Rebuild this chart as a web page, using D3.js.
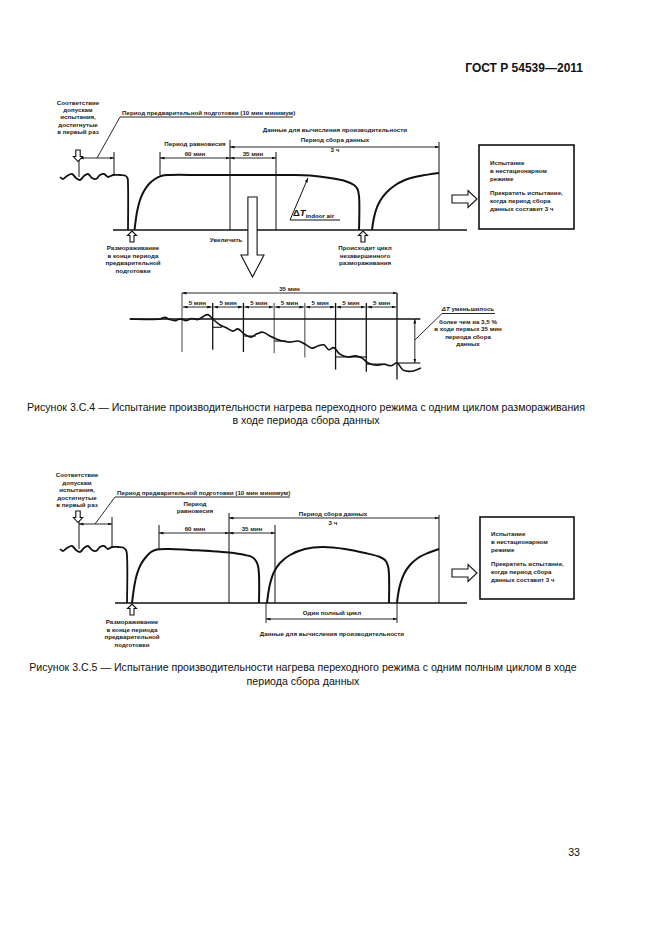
<!DOCTYPE html>
<html>
<head>
<meta charset="utf-8">
<script src="https://cdn.jsdelivr.net/npm/d3@7"></script>
<style>
  body { margin: 0; background: #fff; }
  svg { display: block; font-family: 'Liberation Sans', Arial, sans-serif; }
  .small { font-size: 6.2px; font-weight: bold; fill: #1a1a1a; }
  .caption { font-size: 10.6px; fill: #111; }
</style>
</head>
<body>
<svg id="page"></svg>
<script>
// ---- Рисунок 3.С.4 : schematic time units (t) vs relative indoor temperature (T)
const f1Preheat = [[0,53],[3,51],[7,54],[12,56],[16,52],[20,50],[24,54],[28,56],[32,52],[36,51],[40,55],[44,56],[48,53],[53,55],[60,55],[65,54.5],[67.5,52],[68,46],[68,0]];
const f1Recovery = [[74.5,0],[75.5,8],[77,18],[80,30],[84,39],[89,46],[95,51],[101,54],[110,55],[140,55],[170,55],[200,55],[230,55],[250,54.5],[270,52],[285,49],[294,45],[297.5,41],[299,34],[299,0]];
const f1Restart = [[312,0],[313.5,10],[316,20],[320,29],[326,37],[334,44],[345,50],[360,54],[379,57]];
const f1Defrost = [72, 303];

// ---- Рисунок 3.С.5
const f2Preheat = [[0,54],[3,52],[7,55],[12,57],[16,53],[20,51],[24,55],[28,57],[32,53],[36,52],[40,56],[44,57],[48,54],[52,56],[58,56],[63,55.5],[66,53],[67,47],[67,0]];
const f2Recovery = [[72,0],[73,8],[74.5,18],[77,29],[81,39],[86,46],[91,51],[97,53.5],[110,54],[130,53],[150,52],[169,50.5],[185,48],[192,46],[196,42],[198,37],[199,28],[199,0]];
const f2Cycle = [[207,0],[208,8],[210,19],[214,31],[220,40],[230,48],[245,54],[263,56],[285,54],[305,50],[320,46],[325,43],[328,37],[329,28],[329,0]];
const f2Restart = [[337,0],[338,8],[340,18],[344,29],[350,38],[358,45],[368,50],[379,54]];
const f2Defrost = [72];

// ---- Увеличенный фрагмент: minutes of data collection vs drop of ΔT, %
const detailMinutes = [-8.5,-3.6,-2.8,-2.0,-1.1,-0.3,0.7,1.6,2.6,3.4,4.2,5.0,6.2,7.2,8.3,9.1,10.1,11.2,12.2,13.2,14.3,15.3,16.3,17.6,18.9,20.2,21.2,22.1,23.1,23.9,24.7,25.7,27.0,28.3,29.3,30.3,31.6,32.9,34.0,35.0,36.0,37.4,38.9];
const detailDrop = [0,0,-0.15,0.05,0.15,0,0.15,-0.05,0.05,-0.2,-0.4,0,0.55,0.8,1.1,0.9,1.35,1.65,1.35,1.2,1.55,1.8,2.0,2.1,2.0,2.35,2.65,2.45,2.35,2.8,2.6,3.2,3.45,3.35,3.55,4.0,4.2,4.1,4.25,4.0,4.65,4.75,4.45];
const detailIntervals = [0,5,10,15,20,25,30,35];
const detailSteps = [[5,6.5,0.75],[10,12,1.55],[15,17,2.0],[25,30,3.45],[30,32.5,4.1]];

const boxLines1 = ['Испытание','в нестационарном','режиме'];
const boxLines2 = ['Прекратить испытание,','когда период сбора','данных составит 3 ч'];
const okLines = ['Соответствие','допускам','испытания,','достигнутые','в первый раз'];
const defrostLines = ['Размораживание','в конце периода','предварительной','подготовки'];

const INK = '#111';
let svg = d3.select('#page').attr('width', 661).attr('height', 936);

svg.append('defs').append('marker')
  .attr('id', 'arr').attr('viewBox', '0 0 6 4').attr('refX', 6).attr('refY', 2)
  .attr('markerWidth', 4.5).attr('markerHeight', 3).attr('markerUnits', 'userSpaceOnUse')
  .attr('orient', 'auto-start-reverse')
  .append('path').attr('d', 'M0,0L6,2L0,4Z').attr('fill', INK);

function line(g, x1, y1, x2, y2, w) {
  return g.append('line').attr('x1', x1).attr('y1', y1).attr('x2', x2).attr('y2', y2)
    .attr('stroke', INK).attr('stroke-width', w || 1);
}

function dim(g, x1, x2, y) {
  line(g, x1, y, x2, y, 0.9).attr('marker-start', 'url(#arr)').attr('marker-end', 'url(#arr)');
}

function text(g, x, y, lines, anchor, dy) {
  let t = g.append('text').attr('class', 'small').attr('text-anchor', anchor || 'middle');
  [].concat(lines).forEach((s, i) => {
    t.append('tspan').attr('x', x).attr('y', y + i * (dy || 7.5)).text(s);
  });
  return t;
}

// hollow block arrow, tail at (x,y), pointing along angle (deg)
function blockArrow(g, x, y, angle, L, s, h, hl) {
  let pts = [[0,-s],[L-hl,-s],[L-hl,-h],[L,0],[L-hl,h],[L-hl,s],[0,s]];
  g.append('polygon').attr('points', pts.map(p => p.join(',')).join(' '))
    .attr('transform', `translate(${x},${y}) rotate(${angle})`)
    .attr('fill', '#fff').attr('stroke', INK).attr('stroke-width', 1.1);
}

function curve(g, data, xs, ys, w) {
  let gen = d3.line().x(d => xs(d[0])).y(d => ys(d[1])).curve(d3.curveCatmullRom.alpha(0.5));
  g.append('path').attr('d', gen(data)).attr('fill', 'none')
    .attr('stroke', INK).attr('stroke-width', w || 2).attr('stroke-linejoin', 'round');
}

function resultBox(g, x0, y0, x1, y1, ty) {
  g.append('rect').attr('x', x0).attr('y', y0).attr('width', x1 - x0).attr('height', y1 - y0)
    .attr('fill', 'none').attr('stroke', INK).attr('stroke-width', 1.6);
  text(g, x0 + 11, ty, boxLines1, 'start', 7.8);
  text(g, x0 + 11, ty + 30, boxLines2, 'start', 7.8);
}

// ---------------- header / captions
svg.append('text').attr('x', 583).attr('y', 72).attr('text-anchor', 'end')
  .style('font-size', '12px').style('font-weight', 'bold').attr('fill', INK).text('ГОСТ Р 54539—2011');
svg.append('text').attr('class', 'caption').attr('x', 306).attr('y', 411).attr('text-anchor', 'middle')
  .text('Рисунок 3.С.4 — Испытание производительности нагрева переходного режима с одним циклом размораживания');
svg.append('text').attr('class', 'caption').attr('x', 306).attr('y', 424).attr('text-anchor', 'middle')
  .text('в ходе периода сбора данных');
svg.append('text').attr('class', 'caption').attr('x', 303).attr('y', 671).attr('text-anchor', 'middle')
  .text('Рисунок 3.С.5 — Испытание производительности нагрева переходного режима с одним полным циклом в ходе');
svg.append('text').attr('class', 'caption').attr('x', 303).attr('y', 685).attr('text-anchor', 'middle')
  .text('периода сбора данных');
svg.append('text').attr('class', 'caption').attr('x', 580).attr('y', 856).attr('text-anchor', 'end').text('33');

// ---------------- Figure 3.C.4
function makeFigure1() {
  let g = svg.append('g');
  let x = d3.scaleLinear().domain([0, 380]).range([60, 440]);
  let y = d3.scaleLinear().domain([0, 55]).range([230, 175]);

  line(g, x(53), y(0), x(407), y(0), 1.6);
  // vertical reference lines
  line(g, x(19), y(78), x(19), y(53));
  line(g, x(54), y(78), x(54), y(55));
  line(g, x(100), y(78), x(100), y(55));
  line(g, x(170), y(90), x(170), y(0));
  line(g, x(216), y(78), x(216), y(0));
  line(g, x(379), y(88), x(379), y(0));

  curve(g, f1Preheat, x, y, 1.8);
  curve(g, f1Recovery, x, y, 2);
  curve(g, f1Restart, x, y, 2);

  dim(g, x(19), x(54), y(72));
  dim(g, x(100), x(170), y(72));
  dim(g, x(170), x(216), y(72));
  dim(g, x(170), x(379), y(83));

  f1Defrost.forEach(t => blockArrow(g, x(t), y(0) + 12, -90, 11, 2, 4.5, 4.5));
  blockArrow(g, 78, 150, 90, 11.5, 2.2, 4.6, 5);
  blockArrow(g, 252.5, 197, 90, 80, 4.6, 11.5, 22);
  blockArrow(g, 452, 199, 0, 25, 4, 8.5, 9);

  // ΔT indoor air
  line(g, x(230), y(10), x(248), y(52), 1).attr('marker-end', 'url(#arr)');
  line(g, x(230), y(10), x(280), y(10), 1);
  let dt = g.append('text').attr('x', 293).attr('y', 216).attr('fill', INK)
    .style('font-size', '9.5px').style('font-weight', 'bold');
  dt.append('tspan').text('Δ');
  dt.append('tspan').style('font-style', 'italic').text('T');
  dt.append('tspan').attr('dy', 2).style('font-size', '6.2px').text('indoor air');

  text(g, 78, 105, okLines, 'middle', 7.2);
  g.append('path').attr('d', 'M97,158L120,117L293,117').attr('fill', 'none').attr('stroke', INK).attr('stroke-width', 0.9);
  text(g, 122, 115, 'Период предварительной подготовки (10 мин минимум)', 'start');
  text(g, 335, 132, 'Данные для вычисления производительности');
  text(g, 195, 146, 'Период равновесия');
  text(g, 195, 155.5, '60 мин');
  text(g, 253, 155.5, '35 мин');
  text(g, 335, 142, 'Период сбора данных');
  text(g, 335, 152, '3 ч');
  text(g, 226, 242, 'Увеличить');
  text(g, 133, 250, defrostLines);
  text(g, 365, 250, ['Происходит цикл', 'незавершенного', 'размораживания']);

  resultBox(g, 479, 145, 574, 229, 165);
}

// ---------------- zoomed fragment
function makeDetail() {
  let g = svg.append('g');
  let x = d3.scaleLinear().domain([0, 35]).range([182, 397]);
  let y = d3.scaleLinear().domain([0, 4]).range([319, 363]);
  let depth = [3.0, 2.8, 3.0, 3.1, 3.5, 4.6, 4.8, 5.5];
  let weight = [0.8, 1.3, 1.3, 0.8, 0.8, 1.3, 1.3, 1.3];

  line(g, x(-8.5), y(0), x(38.8), y(0), 1.3);
  detailIntervals.forEach((t, i) => {
    let top = (t === 0 || t === 35) ? 293 : 303;
    line(g, x(t), top, x(t), y(depth[i]), weight[i]);
  });
  dim(g, x(0), x(35), 293);
  text(g, x(17.5), 290.5, '35 мин');
  for (let i = 0; i < detailIntervals.length - 1; i++) {
    dim(g, x(detailIntervals[i]) + 1, x(detailIntervals[i + 1]) - 1, 307);
    text(g, x(detailIntervals[i] + 2.5), 304.5, '5 мин');
  }
  detailSteps.forEach(s => line(g, x(s[0]), y(s[2]), x(s[1]), y(s[2]), 1.1));

  let pts = detailMinutes.map((m, i) => [m, detailDrop[i]]);
  curve(g, pts, x, y, 1.6);

  // ΔT bracket
  line(g, x(35), y(4), x(38.8), y(4), 1.1);
  line(g, x(37.9), y(0), x(37.9), y(4), 0.9).attr('marker-start', 'url(#arr)').attr('marker-end', 'url(#arr)');
  g.append('path').attr('d', `M${x(37.9)},340L442,313.5L495,313.5`).attr('fill', 'none')
    .attr('stroke', INK).attr('stroke-width', 0.9);
  text(g, 468, 323.5, ['более чем на 3,5 %', 'в ходе первых 35 мин', 'периода сбора', 'данных'], 'middle', 7.6);
  let head = g.append('text').attr('class', 'small').attr('x', 468).attr('y', 311).attr('text-anchor', 'middle');
  head.append('tspan').style('font-style', 'italic').text('ΔT');
  head.append('tspan').text(' уменьшилось');
}

// ---------------- Figure 3.C.5
function makeFigure2() {
  let g = svg.append('g');
  let x = d3.scaleLinear().domain([0, 380]).range([60, 440]);
  let y = d3.scaleLinear().domain([0, 54]).range([603, 549]);

  line(g, x(55), y(0), x(407), y(0), 1.6);
  line(g, x(19), y(86), x(19), y(54));
  line(g, x(52), y(86), x(52), y(56));
  line(g, x(99), y(78), x(99), y(54));
  line(g, x(169), y(90), x(169), y(0));
  line(g, x(215), y(78), x(215), y(0));
  line(g, x(379), y(88), x(379), y(0));
  line(g, x(206), y(0), x(206), y(-20), 0.9);
  line(g, x(337), y(0), x(337), y(-20), 0.9);

  curve(g, f2Preheat, x, y, 1.8);
  curve(g, f2Recovery, x, y, 2);
  curve(g, f2Cycle, x, y, 2);
  curve(g, f2Restart, x, y, 2);

  dim(g, x(19), x(52), y(79));
  dim(g, x(99), x(169), y(70));
  dim(g, x(169), x(215), y(70));
  dim(g, x(169), x(379), y(85));
  dim(g, x(206), x(337), y(-16));

  f2Defrost.forEach(t => blockArrow(g, x(t), y(0) + 12, -90, 11, 2, 4.5, 4.5));
  blockArrow(g, 78, 511, 90, 11.5, 2.2, 4.6, 5);
  blockArrow(g, 452, 573, 0, 25, 4, 8.5, 9);

  text(g, 77, 477, okLines, 'middle', 7.5);
  g.append('path').attr('d', 'M95,524L115,497L290,497').attr('fill', 'none').attr('stroke', INK).attr('stroke-width', 0.9);
  text(g, 117, 495, 'Период предварительной подготовки (10 мин минимум)', 'start');
  text(g, 195, 506, ['Период', 'равновесия'], 'middle', 7);
  text(g, 195, 531, '60 мин');
  text(g, 252, 531, '35 мин');
  text(g, 333, 516, 'Период сбора данных');
  text(g, 333, 525, '3 ч');
  text(g, 332, 615, 'Один полный цикл');
  text(g, 332, 636, 'Данные для вычисления производительности');
  text(g, 132, 624, defrostLines);

  resultBox(g, 480, 517, 574, 599, 536);
}

makeFigure1();
makeDetail();
makeFigure2();
</script>
</body>
</html>
